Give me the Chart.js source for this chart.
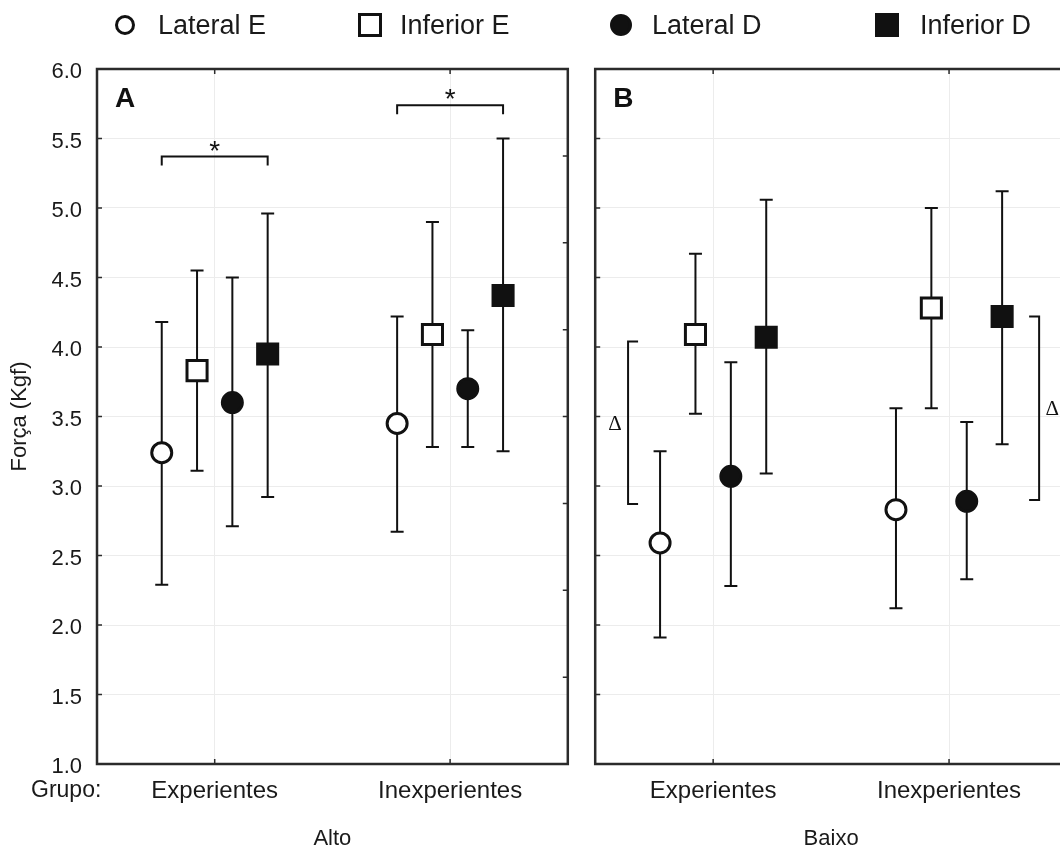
<!DOCTYPE html>
<html>
<head>
<meta charset="utf-8">
<title>Força (Kgf) - Alto / Baixo</title>
<script src="https://cdn.jsdelivr.net/npm/chart.js@4.4.1/dist/chart.umd.min.js"></script>
<style>
  html, body { margin: 0; padding: 0; background: #fff; overflow: hidden; }
  #page {
    position: relative; width: 1060px; height: 852px; overflow: hidden;
    font-family: "Liberation Sans", Arial, sans-serif; color: #1a1a1a;
  }
  #panelA { position: absolute; left: 0; top: 0; }
  #panelB { position: absolute; left: 578px; top: 0; }
  .mk { position: absolute; box-sizing: border-box; border: 3px solid #111; background: #fff; z-index: 2; }
  .mk.round { border-radius: 50%; }
  .mk.solid { background: #111; }
  .lbl { position: absolute; top: 12px; font-size: 27px; line-height: 27px; white-space: nowrap; z-index: 2; }
</style>
</head>
<body>
<div id="page">
  <div class="mk round" style="left:115px; top:15px; width:20px; height:20px;"></div>
  <div class="lbl" style="left:158px;">Lateral E</div>
  <div class="mk" style="left:358px; top:13px; width:24px; height:24px;"></div>
  <div class="lbl" style="left:400px;">Inferior E</div>
  <div class="mk round solid" style="left:610px; top:14px; width:22px; height:22px;"></div>
  <div class="lbl" style="left:652px;">Lateral D</div>
  <div class="mk solid" style="left:875px; top:13px; width:24px; height:24px;"></div>
  <div class="lbl" style="left:920px;">Inferior D</div>

  <canvas id="panelA" width="585" height="852"></canvas>
  <canvas id="panelB" width="507" height="852"></canvas>
</div>

<script>
// ============================================
// Data
// ============================================

const groups = ['Experientes', 'Inexperientes'];
const seriesNames = ['Lateral E', 'Inferior E', 'Lateral D', 'Inferior D'];

// Alto - rows follow seriesNames, columns follow groups
const altoMean = [[3.24, 3.45], [3.83, 4.09], [3.60, 3.70], [3.95, 4.37]];
const altoLow  = [[2.29, 2.67], [3.11, 3.28], [2.71, 3.28], [2.92, 3.25]];
const altoHigh = [[4.18, 4.22], [4.55, 4.90], [4.50, 4.12], [4.96, 5.50]];

// Baixo
const baixoMean = [[2.59, 2.83], [4.09, 4.28], [3.07, 2.89], [4.07, 4.22]];
const baixoLow  = [[1.91, 2.12], [3.52, 3.56], [2.28, 2.33], [3.09, 3.30]];
const baixoHigh = [[3.25, 3.56], [4.67, 5.00], [3.89, 3.46], [5.06, 5.12]];

// Significance marks
const altoStarLevels = [5.37, 5.74];                  // "*" bracket per group
const baixoDeltaRanges = [[2.87, 4.04], [2.90, 4.22]]; // Δ bracket per group

// ============================================
// Styles
// ============================================

const FONT = '"Liberation Sans", Arial, sans-serif';
const SERIF = '"Liberation Serif", "Times New Roman", serif';
const INK = '#111';
const TEXT = '#1a1a1a';
const FRAME = '#2b2b2b';
const GRID = '#ececec';

const dodge = [-0.225, -0.075, 0.075, 0.225];
const seriesStyle = [
  { pointStyle: 'circle', fill: '#fff', radius: 10 },
  { pointStyle: 'rect', fill: '#fff', radius: 14.2 },
  { pointStyle: 'circle', fill: INK, radius: 10 },
  { pointStyle: 'rect', fill: INK, radius: 14.2 }
];

// ============================================
// Plugins
// ============================================

// vertical error bars drawn under the markers
const errorBars = {
  id: 'errorBars',
  beforeDatasetsDraw(chart) {
    const { ctx, scales: { x, y } } = chart;
    ctx.save();
    ctx.strokeStyle = INK;
    ctx.lineWidth = 2;
    chart.data.datasets.forEach(ds => {
      ds.data.forEach(p => {
        const px = x.getPixelForValue(p.x);
        const yl = y.getPixelForValue(p.low);
        const yh = y.getPixelForValue(p.high);
        ctx.beginPath();
        ctx.moveTo(px, yl); ctx.lineTo(px, yh);
        ctx.moveTo(px - 6.5, yl); ctx.lineTo(px + 6.5, yl);
        ctx.moveTo(px - 6.5, yh); ctx.lineTo(px + 6.5, yh);
        ctx.stroke();
      });
    });
    ctx.restore();
  }
};

// place a glyph so its ink box is centred on (cx, cy)
function centeredGlyph(ctx, text, cx, cy) {
  const m = ctx.measureText(text);
  const base = cy + (m.actualBoundingBoxAscent - m.actualBoundingBoxDescent) / 2;
  ctx.textAlign = 'center';
  ctx.textBaseline = 'alphabetic';
  ctx.fillText(text, cx, base);
}

// frame, inner ticks, panel letter and annotations
const frame = {
  id: 'frame',
  afterDraw(chart, args, opts) {
    const { ctx, chartArea: a, scales: { x, y } } = chart;
    ctx.save();

    ctx.strokeStyle = FRAME;
    ctx.lineWidth = 2.5;
    ctx.strokeRect(a.left, a.top, a.right - a.left, a.bottom - a.top);

    ctx.lineWidth = 1.5;
    ctx.beginPath();
    groups.forEach((g, i) => {
      const px = x.getPixelForValue(i + 0.5);
      ctx.moveTo(px, a.top); ctx.lineTo(px, a.top + 5);
      ctx.moveTo(px, a.bottom); ctx.lineTo(px, a.bottom - 5);
    });
    y.ticks.forEach(t => {
      const py = y.getPixelForValue(t.value);
      ctx.moveTo(a.left, py); ctx.lineTo(a.left + 5, py);
    });
    if (opts.rightTicks) {
      for (let k = 0; k <= opts.rightTicks; k++) {
        const py = a.top + k * (a.bottom - a.top) / opts.rightTicks;
        ctx.moveTo(a.right, py); ctx.lineTo(a.right - 5, py);
      }
    }
    ctx.stroke();

    ctx.fillStyle = INK;
    ctx.font = 'bold 28px ' + FONT;
    ctx.textAlign = 'left';
    ctx.textBaseline = 'alphabetic';
    ctx.fillText(opts.letter, a.left + 18, a.top + 38);

    if (opts.showGroupLabel) {
      ctx.fillStyle = TEXT;
      ctx.font = '23px ' + FONT;
      ctx.fillText('Grupo:', a.left - 66, a.bottom + 33);
    }

    ctx.strokeStyle = INK;
    ctx.fillStyle = INK;
    ctx.lineWidth = 2;

    // "*" brackets
    (opts.stars || []).forEach((level, i) => {
      const x1 = x.getPixelForValue(i + 0.5 + dodge[0]);
      const x2 = x.getPixelForValue(i + 0.5 + dodge[3]);
      const py = y.getPixelForValue(level);
      ctx.beginPath();
      ctx.moveTo(x1, py + 9); ctx.lineTo(x1, py); ctx.lineTo(x2, py); ctx.lineTo(x2, py + 9);
      ctx.stroke();
      ctx.font = '28px ' + FONT;
      centeredGlyph(ctx, '*', (x1 + x2) / 2, py - 11);
    });

    // Δ brackets: first group on its left, second group on its right
    (opts.deltas || []).forEach((range, i) => {
      const left = i === 0;
      const edge = x.getPixelForValue(i + 0.5 + (left ? dodge[0] : dodge[3]));
      const bx = left ? edge - 32 : edge + 37;
      const dir = left ? 1 : -1;
      const y1 = y.getPixelForValue(range[0]);
      const y2 = y.getPixelForValue(range[1]);
      ctx.beginPath();
      ctx.moveTo(bx + dir * 10, y1); ctx.lineTo(bx, y1); ctx.lineTo(bx, y2); ctx.lineTo(bx + dir * 10, y2);
      ctx.stroke();
      ctx.font = '21px ' + SERIF;
      centeredGlyph(ctx, 'Δ', bx - dir * 13, (y1 + y2) / 2);
    });

    ctx.restore();
  }
};

// ============================================
// Chart creation
// ============================================

function makeDatasets(mean, low, high) {
  return seriesNames.map((name, s) => ({
    label: name,
    data: groups.map((g, i) => ({
      x: i + 0.5 + dodge[s],
      y: mean[s][i],
      low: low[s][i],
      high: high[s][i]
    })),
    pointStyle: seriesStyle[s].pointStyle,
    pointRadius: seriesStyle[s].radius,
    pointHoverRadius: seriesStyle[s].radius,
    backgroundColor: seriesStyle[s].fill,
    borderColor: INK,
    borderWidth: 3,
    showLine: false
  }));
}

function createPanel(canvasId, title, datasets, panel) {
  const ctx = document.getElementById(canvasId);
  return new Chart(ctx, {
    type: 'scatter',
    data: { datasets },
    options: {
      responsive: false,
      animation: false,
      events: [],
      layout: { padding: { left: 0, top: 69, right: panel.padRight, bottom: 0 } },
      plugins: {
        legend: { display: false },
        tooltip: { enabled: false },
        frame: panel
      },
      scales: {
        x: {
          type: 'linear',
          min: 0,
          max: 2,
          afterBuildTicks: s => { s.ticks = groups.map((g, i) => ({ value: i + 0.5 })); },
          ticks: {
            padding: 13,
            color: TEXT,
            autoSkip: false,
            maxRotation: 0,
            font: { family: FONT, size: 24 },
            callback: (v, i) => groups[i]
          },
          grid: { color: GRID, lineWidth: 1, drawTicks: false },
          border: { display: false },
          title: {
            display: true,
            text: title,
            color: TEXT,
            font: { family: FONT, size: 22 },
            padding: { top: 0, bottom: 0 }
          },
          afterFit: s => { s.height = 88; }
        },
        y: {
          type: 'linear',
          min: 1,
          max: 6,
          ticks: {
            display: panel.yLabels,
            stepSize: 0.5,
            padding: 15,
            labelOffset: 3,
            color: TEXT,
            font: { family: FONT, size: 22 },
            callback: v => v.toFixed(1)
          },
          grid: { color: GRID, lineWidth: 1, drawTicks: false },
          border: { display: false },
          title: {
            display: panel.yLabels,
            text: 'Força (Kgf)',
            color: TEXT,
            font: { family: FONT, size: 22 },
            padding: { top: 7, bottom: 0 }
          },
          afterFit: s => { s.width = panel.yWidth; }
        }
      }
    },
    plugins: [errorBars, frame]
  });
}

createPanel('panelA', 'Alto', makeDatasets(altoMean, altoLow, altoHigh), {
  letter: 'A', yLabels: true, yWidth: 97, padRight: 15,
  rightTicks: 8, showGroupLabel: true, stars: altoStarLevels
});

createPanel('panelB', 'Baixo', makeDatasets(baixoMean, baixoLow, baixoHigh), {
  letter: 'B', yLabels: false, yWidth: 10, padRight: 18,
  deltas: baixoDeltaRanges
});
</script>
</body>
</html>
